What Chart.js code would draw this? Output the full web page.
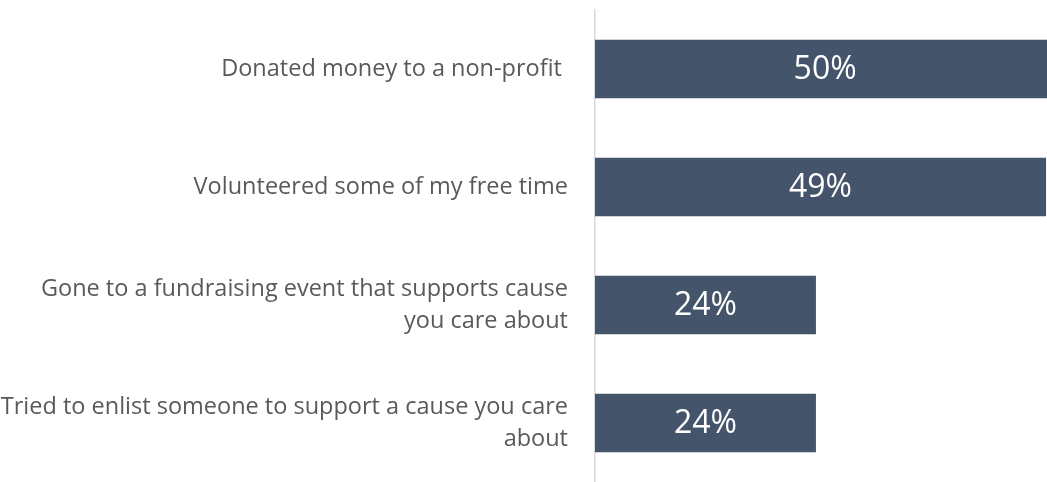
<!DOCTYPE html>
<html>
<head>
<meta charset="utf-8">
<script src="https://cdn.jsdelivr.net/npm/chart.js@4/dist/chart.umd.min.js"></script>
<style>
  html, body { margin: 0; padding: 0; background: #fff; }
  #wrap { width: 1047px; height: 482px; position: relative; }
</style>
</head>
<body>
<div id="wrap"><canvas id="chartCanvas"></canvas></div>
<script>
// ─── DATOS ────────────────────────────────────────────────────────────────
const categorias = [
  ["Donated money to a non-profit "],
  ["Volunteered some of my free time"],
  ["Gone to a fundraising event that supports cause", "you care about"],
  ["Tried to enlist someone to support a cause you care", "about"]
];
const valores = [50, 49, 24, 24];
const etiquetas = ["50%", "49%", "24%", "24%"];

// ─── ETIQUETAS DENTRO DE LAS BARRAS ───────────────────────────────────────
const barLabels = {
  id: "barLabels",
  afterDatasetsDraw(chart) {
    const ctx = chart.ctx;
    const meta = chart.getDatasetMeta(0);
    ctx.save();
    ctx.fillStyle = "#ffffff";
    ctx.font = "32px 'Open Sans'";
    ctx.textAlign = "center";
    ctx.textBaseline = "middle";
    meta.data.forEach((bar, i) => {
      ctx.fillText(etiquetas[i], (bar.x + bar.base) / 2, bar.y + 1);
    });
    ctx.restore();
  }
};

new Chart(document.getElementById("chartCanvas"), {
  type: "bar",
  data: {
    labels: categorias,
    datasets: [{
      data: valores,
      backgroundColor: "#44546a",
      borderWidth: 0,
      barPercentage: 0.497,
      categoryPercentage: 1
    }]
  },
  options: {
    indexAxis: "y",
    responsive: true,
    maintainAspectRatio: false,
    animation: false,
    layout: { autoPadding: false, padding: { top: 10, left: 0, right: 0, bottom: -3 } },
    plugins: {
      legend: { display: false },
      tooltip: { enabled: false }
    },
    scales: {
      x: {
        display: false,
        min: 0,
        max: 49.1
      },
      y: {
        grid: { display: false, drawTicks: false },
        border: { display: true, color: "#d9d9d9", width: 1.5 },
        ticks: {
          color: "#595959",
          padding: 27,
          font: { family: "Open Sans", size: 23.5, lineHeight: 1.35 }
        },
        afterFit: (axis) => {
          axis.width = 595;
          axis.paddingTop = 0;
          axis.paddingBottom = 0;
        }
      }
    }
  },
  plugins: [barLabels]
});
</script>
</body>
</html>
